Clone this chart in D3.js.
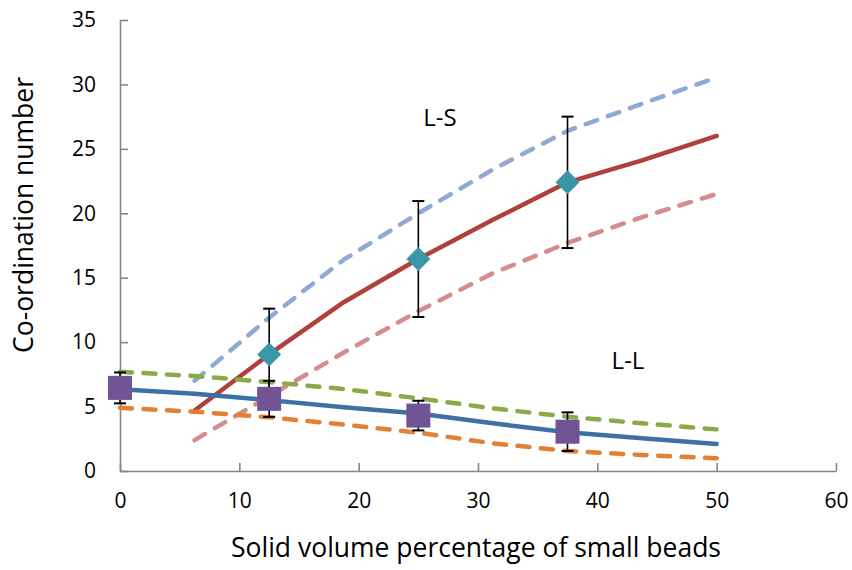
<!DOCTYPE html>
<html>
<head>
<meta charset="utf-8">
<script src="https://cdn.jsdelivr.net/npm/d3@7"></script>
<style>
  body { margin: 0; background: #fff; }
  text { font-family: "Open Sans", sans-serif; fill: #000; }
</style>
</head>
<body>
<svg id="viz_area" width="852" height="570"></svg>
<script>
// x positions of the curves
const curveX = [0, 6.25, 12.5, 18.75, 25, 31.25, 37.5, 43.75, 50]
// L-S curves (start at 6.25)
const lsMean = [null, 4.7, 9.05, 13.1, 16.45, 19.5, 22.4, 24.1, 26.0]
const lsUpper = [null, 7.0, 11.9, 16.4, 20.0, 23.4, 26.4, 28.5, 30.55]
const lsLower = [null, 2.4, 5.8, 9.2, 12.4, 15.35, 17.7, 19.7, 21.5]
// L-L curves
const llMean = [6.35, 6.0, 5.5, 4.95, 4.47, 3.7, 3.0, 2.55, 2.1]
const llUpper = [7.7, 7.37, 6.9, 6.36, 5.64, 4.86, 4.21, 3.7, 3.23]
const llLower = [4.9, 4.6, 4.17, 3.6, 2.97, 2.15, 1.55, 1.24, 0.98]

// measured points with error bars
const lsPointX = [12.5, 25, 37.5]
const lsPointY = [9.05, 16.45, 22.4]
const lsPointErr = [3.55, 4.5, 5.1]
const llPointX = [0, 12.5, 25, 37.5]
const llPointY = [6.45, 5.6, 4.3, 3.05]
const llPointErr = [1.2, 1.4, 1.15, 1.5]

const xTicks = [0, 10, 20, 30, 40, 50, 60]
const yTicks = [0, 5, 10, 15, 20, 25, 30, 35]

const margin = {
    top: 20,
    right: 16,
    bottom: 99,
    left: 120
}

let svgSize, graphSize

function setSizing() {
    svgSize = { width: 852, height: 570 }
    graphSize = {
        width: svgSize.width - margin.right - margin.left,
        height: svgSize.height - margin.bottom - margin.top
    }
}

setSizing()

const svg = d3.select('#viz_area')
const g = svg.append('g')
    .attr('transform', 'translate(' + margin.left + ',' + margin.top + ')')

const xScale = d3.scaleLinear().domain([0, 60]).range([0, graphSize.width])
const yScale = d3.scaleLinear().domain([0, 35]).range([graphSize.height, 0])

// axes: gray, ticks pointing inward
const axisColor = '#868686'
const xAxis = g.append('g')
    .attr('transform', 'translate(0,' + graphSize.height + ')')
    .call(d3.axisBottom(xScale).tickValues(xTicks).tickSizeInner(-8).tickSizeOuter(0).tickPadding(22))
const yAxis = g.append('g')
    .call(d3.axisLeft(yScale).tickValues(yTicks).tickSizeInner(-8).tickSizeOuter(0).tickPadding(24))

;[xAxis, yAxis].forEach(function (a) {
    a.select('.domain').attr('stroke', axisColor).attr('stroke-width', 1.6)
    a.selectAll('.tick line').attr('stroke', axisColor).attr('stroke-width', 1.6)
    a.selectAll('.tick text').attr('font-size', 21).attr('font-family', '"Open Sans", sans-serif').attr('fill', '#000')
})

function drawCurve(values, color, dashed) {
    const pts = curveX.map(function (x, i) { return [x, values[i]] })
        .filter(function (d) { return d[1] !== null })
    const line = d3.line()
        .x(function (d) { return xScale(d[0]) })
        .y(function (d) { return yScale(d[1]) })
    g.append('path')
        .datum(pts)
        .attr('d', line)
        .attr('fill', 'none')
        .attr('stroke', color)
        .attr('stroke-width', 4.5)
        .attr('stroke-linecap', 'round')
        .attr('stroke-linejoin', 'round')
        .attr('stroke-dasharray', dashed ? '12,11.5' : null)
}

drawCurve(lsUpper, '#8EA9D2', true)
drawCurve(lsMean, '#B0403C', false)
drawCurve(lsLower, '#D48C8C', true)
drawCurve(llUpper, '#8AAA48', true)
drawCurve(llMean, '#3E70A8', false)
drawCurve(llLower, '#E28034', true)

function drawErrorBars(xs, ys, errs) {
    xs.forEach(function (x, i) {
        const px = xScale(x)
        const top = yScale(ys[i] + errs[i])
        const bot = yScale(ys[i] - errs[i])
        g.append('line').attr('x1', px).attr('x2', px).attr('y1', top).attr('y2', bot)
            .attr('stroke', '#000').attr('stroke-width', 1.6)
        ;[top, bot].forEach(function (y) {
            g.append('line').attr('x1', px - 6).attr('x2', px + 6).attr('y1', y).attr('y2', y)
                .attr('stroke', '#000').attr('stroke-width', 2)
        })
    })
}

drawErrorBars(lsPointX, lsPointY, lsPointErr)
drawErrorBars(llPointX, llPointY, llPointErr)

// diamonds
g.selectAll('.diamond')
    .data(lsPointX)
    .enter()
    .append('path')
    .attr('class', 'diamond')
    .attr('d', 'M0,-12L12,0L0,12L-12,0Z')
    .attr('transform', function (d, i) { return 'translate(' + xScale(d) + ',' + yScale(lsPointY[i]) + ')' })
    .attr('fill', '#3C96AA')

// squares
g.selectAll('.square')
    .data(llPointX)
    .enter()
    .append('rect')
    .attr('class', 'square')
    .attr('x', function (d) { return xScale(d) - 12 })
    .attr('y', function (d, i) { return yScale(llPointY[i]) - 12 })
    .attr('width', 24)
    .attr('height', 24)
    .attr('fill', '#705494')

// labels
g.append('text').attr('x', 320).attr('y', 106).attr('text-anchor', 'middle')
    .attr('font-size', 24).text('L-S')
g.append('text').attr('x', 508).attr('y', 349).attr('text-anchor', 'middle')
    .attr('font-size', 24).text('L-L')

// axis titles
svg.append('text')
    .attr('x', 476)
    .attr('y', 557)
    .attr('text-anchor', 'middle')
    .attr('font-size', 26.5)
    .text('Solid volume percentage of small beads')

svg.append('text')
    .attr('transform', 'translate(33,215) rotate(-90)')
    .attr('text-anchor', 'middle')
    .attr('font-size', 26.5)
    .text('Co-ordination number')
</script>
</body>
</html>
